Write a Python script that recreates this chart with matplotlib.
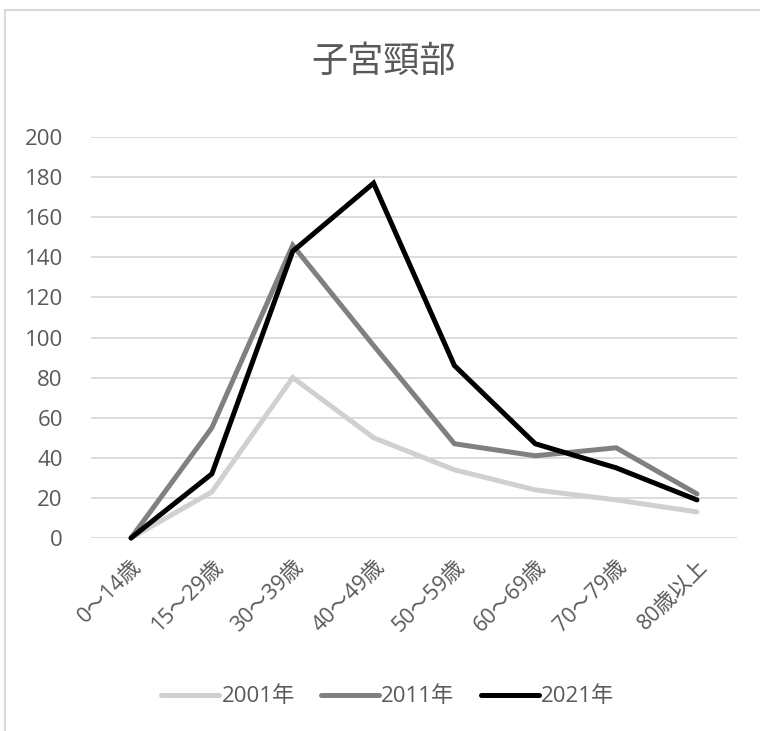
import matplotlib
matplotlib.use("Agg")
import matplotlib.pyplot as plt
from matplotlib.patches import Rectangle

plt.rcParams['font.family'] = ['Open Sans', 'Noto Sans CJK JP', 'DejaVu Sans']

# ---- data ----
ages = ["0～14歳", "15～29歳", "30～39歳", "40～49歳",
        "50～59歳", "60～69歳", "70～79歳", "80歳以上"]
y2001 = [0, 23, 80, 50, 34, 24, 19, 13]
y2011 = [0, 55, 146, 96, 47, 41, 45, 22]
y2021 = [0, 32, 143, 177, 86, 47, 35, 19]
series = [("2001年", y2001, "#d0d0d0"),
          ("2011年", y2011, "#808080"),
          ("2021年", y2021, "#000000")]
yticks = list(range(0, 201, 20))

txt = "#595959"
W, H = 760, 731
fig = plt.figure(figsize=(W / 100, H / 100), dpi=100)
ax = fig.add_axes([90.6 / W, (H - 538) / H, 646.8 / W, 401 / H])

x = list(range(len(ages)))
for name, vals, col in series:
    ax.plot(x, vals, color=col, lw=3.6, label=name, clip_on=False,
            solid_joinstyle="miter", solid_capstyle="round")

ax.set_xlim(-0.5, len(ages) - 0.5)
ax.set_ylim(0, 200)
ax.set_yticks(yticks)
ax.set_xticks(x)
ax.set_xticklabels(ages, rotation=45, ha="right", rotation_mode="anchor")
ax.yaxis.grid(True, color="#d9d9d9", lw=1.3)
ax.set_axisbelow(True)
for s in ax.spines.values():
    s.set_visible(False)
ax.tick_params(axis="both", length=0, labelcolor=txt)
ax.tick_params(axis="y", pad=20, labelsize=16)
ax.tick_params(axis="x", pad=13, labelsize=15.5)

fig.text(384 / W, 1 - 63 / H, "子宮頸部", ha="center", va="center",
         fontsize=26, color=txt)

fig.legend(loc="center", bbox_to_anchor=(388 / W, 1 - 697 / H), ncol=3,
           frameon=False, fontsize=16, labelcolor=txt, handlelength=2.6,
           handletextpad=0.1, columnspacing=1.2)

# chart frame (cropped on right/bottom like the source)
fig.patches.append(Rectangle((5 / W, -0.1), 2.0, 1.1 - 10 / H,
                             transform=fig.transFigure, fill=False,
                             edgecolor="#d9d9d9", lw=1.5))

plt.savefig("out.png", dpi=100)
